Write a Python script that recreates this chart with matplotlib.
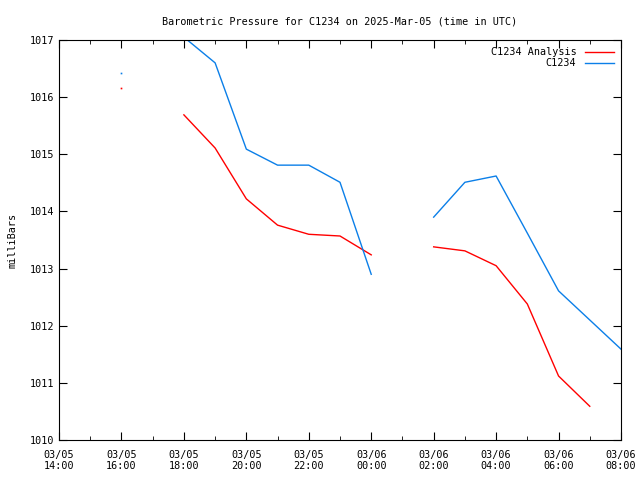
import numpy as np
import matplotlib.pyplot as plt
import matplotlib.dates as mdates
from datetime import datetime, timedelta

plt.rcParams['font.family'] = 'DejaVu Sans Mono'
plt.rcParams['font.size'] = 7.3

t0 = datetime(2025, 3, 5, 14, 0)
times = [t0 + timedelta(hours=h) for h in range(19)]

nan = np.nan
# hourly values 14:00 .. 08:00
analysis = [nan, nan, 1016.16, nan, 1015.69, 1015.11, 1014.22, 1013.76, 1013.60,
            1013.57, 1013.24, nan, 1013.38, 1013.31, 1013.05, 1012.38, 1011.12,
            1010.59, nan]
station = [nan, nan, 1016.42, nan, 1017.05, 1016.60, 1015.09, 1014.81, 1014.81,
           1014.51, 1012.90, nan, 1013.90, 1014.51, 1014.62, 1013.62, 1012.61,
           1012.10, 1011.59]


def lonely(v):
    # points with no neighbour on either side show up only as a dot
    v = np.asarray(v)
    ok = ~np.isnan(v)
    prev = np.r_[False, ok[:-1]]
    nxt = np.r_[ok[1:], False]
    return ok & ~prev & ~nxt


fig = plt.figure(figsize=(6.4, 4.8), dpi=100)
ax = fig.add_axes([59/640, 40/480, 562/640, 400/480])

series = [(analysis, '#ff0000', 'C1234 Analysis'), (station, '#0b7fe8', 'C1234')]
for vals, col, lab in series:
    ax.plot(times, vals, color=col, lw=1, label=lab)
    m = lonely(vals)
    ax.plot(np.array(times)[m], np.asarray(vals)[m], ls='none', marker='s',
            ms=1.2, mew=0, color=col)

ax.set_xlim(times[0], times[-1])
ax.set_ylim(1010, 1017)
ax.set_yticks(range(1010, 1018))
ax.xaxis.set_major_locator(mdates.HourLocator(byhour=range(0, 24, 2)))
ax.xaxis.set_minor_locator(mdates.HourLocator())
ax.xaxis.set_major_formatter(mdates.DateFormatter('%m/%d\n%H:%M'))
ax.tick_params(which='both', direction='in', top=True, right=True)
ax.tick_params(which='major', length=6)
ax.tick_params(which='minor', length=3)
ax.tick_params(axis='x', pad=7)

ax.set_ylabel('milliBars', labelpad=9)
ax.set_title('Barometric Pressure for C1234 on 2025-Mar-05 (time in UTC)', pad=11,
             fontsize=7.3)
ax.legend(loc='upper right', frameon=False, markerfirst=False, handlelength=2.9,
          handletextpad=0.8, borderaxespad=0.3, labelspacing=0.1)

fig.savefig('out.png', dpi=100)
